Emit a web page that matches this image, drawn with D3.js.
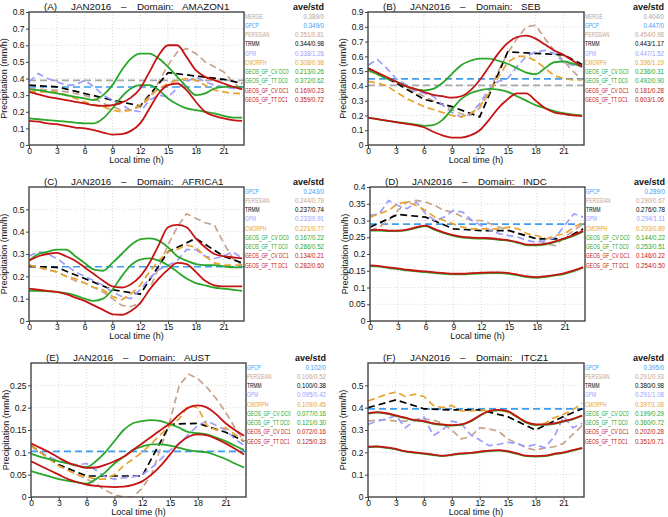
<!DOCTYPE html>
<html><head><meta charset="utf-8">
<script src="https://cdn.jsdelivr.net/npm/d3@7"></script>
<style>
body{margin:0;background:#fff}
text{font-family:"Liberation Sans",Arial,sans-serif}
</style>
</head><body>
<svg id="chart" width="668" height="517"></svg>
<script>
// ---------------- DATA ----------------
const hours = [0,1,2,3,4,5,6,7,8,9,10,11,12,13,14,15,16,17,18,19,20,21,22,23];
const trmmHours = [0,3,6,9,12,15,18,21,23];
const xTicks = [0,3,6,9,12,15,18,21];
const seriesNames = ["MERGE","GPCP","PERSSIAN","TRMM","GPM","CMORPH","GEOS_GF_CV DC0","GEOS_GF_TT DC0","GEOS_GF_CV DC1","GEOS_GF_TT DC1"];

// Panel A  AMAZON1
const A_MERGE = 0.389, A_GPCP = 0.349;
const A_PERSSIAN = [0.34,0.335,0.33,0.33,0.32,0.31,0.30,0.28,0.25,0.23,0.21,0.21,0.23,0.28,0.38,0.48,0.56,0.58,0.55,0.50,0.47,0.44,0.38,0.33];
const A_TRMM = [0.36,0.35,0.31,0.27,0.235,0.435,0.415,0.395,0.37];
const A_GPM = [0.38,0.43,0.40,0.38,0.36,0.36,0.39,0.35,0.30,0.27,0.24,0.21,0.20,0.27,0.30,0.29,0.34,0.38,0.41,0.38,0.36,0.35,0.34,0.34];
const A_CMORPH = [0.32,0.32,0.32,0.32,0.30,0.28,0.26,0.24,0.23,0.21,0.20,0.21,0.24,0.29,0.34,0.37,0.39,0.40,0.39,0.36,0.33,0.32,0.31,0.31];
const A_CVDC0 = [0.16,0.155,0.15,0.145,0.14,0.135,0.13,0.13,0.16,0.22,0.29,0.34,0.36,0.36,0.33,0.28,0.245,0.22,0.21,0.20,0.19,0.175,0.165,0.165];
const A_TTDC0 = [0.335,0.33,0.32,0.31,0.30,0.29,0.28,0.27,0.30,0.36,0.45,0.52,0.55,0.55,0.52,0.47,0.41,0.35,0.30,0.31,0.34,0.35,0.35,0.35];
const A_CVDC1 = [0.145,0.14,0.13,0.125,0.115,0.105,0.10,0.09,0.075,0.063,0.065,0.085,0.13,0.22,0.31,0.36,0.37,0.33,0.26,0.20,0.175,0.16,0.15,0.145];
const A_TTDC1 = [0.32,0.305,0.29,0.28,0.27,0.26,0.25,0.24,0.235,0.24,0.255,0.285,0.34,0.44,0.54,0.60,0.60,0.53,0.45,0.41,0.39,0.37,0.35,0.335];
const A_STATS = ["0.389/0","0.349/0","0.351/0.81","0.344/0.98","0.338/1.26","0.308/0.98","0.213/0.26","0.372/0.62","0.169/0.23","0.359/0.72"];

// Panel B  SEB
const B_MERGE = 0.404, B_GPCP = 0.447;
const B_PERSSIAN = [0.50,0.48,0.45,0.42,0.39,0.36,0.33,0.30,0.27,0.24,0.21,0.20,0.25,0.36,0.50,0.62,0.72,0.80,0.81,0.72,0.64,0.57,0.50,0.44];
const B_TRMM = [0.52,0.42,0.31,0.26,0.19,0.63,0.62,0.61,0.545];
const B_GPM = [0.54,0.58,0.52,0.45,0.41,0.37,0.35,0.33,0.27,0.22,0.19,0.21,0.28,0.38,0.43,0.45,0.53,0.60,0.63,0.64,0.62,0.56,0.54,0.53];
const B_CMORPH = [0.43,0.42,0.40,0.36,0.32,0.29,0.26,0.24,0.22,0.20,0.19,0.21,0.26,0.35,0.46,0.56,0.60,0.60,0.57,0.52,0.47,0.45,0.44,0.44];
const B_CVDC0 = [0.185,0.175,0.165,0.155,0.148,0.14,0.13,0.135,0.17,0.24,0.31,0.35,0.37,0.38,0.375,0.36,0.33,0.30,0.27,0.25,0.23,0.215,0.205,0.20];
const B_TTDC0 = [0.51,0.48,0.45,0.43,0.40,0.38,0.37,0.38,0.42,0.48,0.54,0.57,0.585,0.585,0.57,0.55,0.52,0.49,0.48,0.52,0.56,0.565,0.55,0.53];
const B_CVDC1 = [0.185,0.175,0.165,0.155,0.145,0.135,0.12,0.09,0.065,0.05,0.05,0.065,0.10,0.17,0.25,0.31,0.35,0.35,0.30,0.25,0.22,0.21,0.20,0.195];
const B_TTDC1 = [0.52,0.49,0.46,0.43,0.40,0.38,0.36,0.34,0.33,0.32,0.33,0.37,0.44,0.53,0.62,0.69,0.73,0.74,0.72,0.68,0.64,0.61,0.57,0.53];
const B_STATS = ["0.404/0","0.447/0","0.454/0.98","0.443/1.17","0.447/1.52","0.396/1.19","0.236/0.31","0.492/0.90","0.181/0.28","0.603/1.06"];

// Panel C  AFRICA1
const C_GPCP = 0.243;
const C_PERSSIAN = [0.25,0.24,0.23,0.22,0.20,0.18,0.17,0.15,0.13,0.10,0.07,0.065,0.08,0.14,0.24,0.34,0.42,0.48,0.46,0.44,0.43,0.35,0.28,0.25];
const C_TRMM = [0.245,0.24,0.19,0.14,0.12,0.31,0.37,0.29,0.26];
const C_GPM = [0.29,0.31,0.30,0.28,0.25,0.22,0.20,0.18,0.16,0.13,0.11,0.10,0.14,0.19,0.23,0.25,0.27,0.32,0.32,0.29,0.28,0.29,0.31,0.28];
const C_CMORPH = [0.25,0.24,0.23,0.22,0.20,0.19,0.17,0.15,0.14,0.11,0.095,0.12,0.16,0.22,0.27,0.31,0.32,0.34,0.33,0.29,0.26,0.25,0.25,0.25];
const C_CVDC0 = [0.135,0.135,0.133,0.13,0.125,0.115,0.10,0.09,0.10,0.14,0.20,0.25,0.275,0.28,0.27,0.25,0.22,0.19,0.17,0.16,0.15,0.145,0.14,0.135];
const C_TTDC0 = [0.27,0.30,0.31,0.32,0.32,0.29,0.26,0.23,0.225,0.26,0.30,0.34,0.365,0.37,0.36,0.33,0.29,0.27,0.255,0.25,0.25,0.245,0.24,0.24];
const C_CVDC1 = [0.145,0.14,0.135,0.13,0.12,0.105,0.09,0.07,0.05,0.03,0.028,0.045,0.08,0.14,0.19,0.23,0.26,0.255,0.22,0.18,0.16,0.155,0.155,0.155];
const C_TTDC1 = [0.27,0.29,0.30,0.305,0.29,0.27,0.24,0.21,0.18,0.155,0.15,0.165,0.20,0.26,0.34,0.42,0.43,0.42,0.37,0.33,0.30,0.29,0.285,0.28];
const C_STATS = ["0.243/0","0.244/0.79","0.237/0.74","0.233/0.91","0.221/0.77","0.167/0.22","0.286/0.52","0.134/0.21","0.282/0.60"];

// Panel D  INDC
const D_GPCP = 0.289;
const D_PERSSIAN = [0.27,0.28,0.30,0.33,0.355,0.36,0.355,0.345,0.33,0.325,0.31,0.30,0.30,0.29,0.28,0.27,0.26,0.255,0.245,0.23,0.225,0.25,0.27,0.29];
const D_TRMM = [0.28,0.318,0.31,0.275,0.27,0.27,0.245,0.245,0.275];
const D_GPM = [0.315,0.32,0.36,0.345,0.335,0.355,0.32,0.30,0.31,0.33,0.325,0.30,0.285,0.27,0.26,0.255,0.25,0.24,0.235,0.24,0.25,0.285,0.32,0.31];
const D_CMORPH = [0.31,0.32,0.33,0.35,0.355,0.345,0.33,0.31,0.30,0.29,0.28,0.275,0.275,0.275,0.275,0.28,0.275,0.26,0.255,0.245,0.255,0.26,0.28,0.295];
const D_CVDC0 = [0.164,0.162,0.158,0.155,0.151,0.148,0.146,0.143,0.141,0.139,0.139,0.141,0.142,0.143,0.143,0.141,0.136,0.131,0.129,0.132,0.136,0.141,0.149,0.159];
const D_TTDC0 = [0.27,0.27,0.268,0.268,0.271,0.278,0.283,0.272,0.262,0.254,0.249,0.247,0.246,0.245,0.242,0.239,0.233,0.226,0.226,0.229,0.236,0.245,0.255,0.267];
const D_CVDC1 = [0.166,0.164,0.16,0.157,0.153,0.15,0.148,0.145,0.143,0.141,0.141,0.143,0.144,0.145,0.145,0.143,0.138,0.133,0.131,0.134,0.138,0.143,0.151,0.161];
const D_TTDC1 = [0.272,0.272,0.27,0.27,0.273,0.28,0.285,0.274,0.264,0.256,0.251,0.249,0.248,0.247,0.244,0.241,0.235,0.228,0.228,0.231,0.238,0.247,0.257,0.269];
const D_STATS = ["0.289/0","0.290/0.67","0.276/0.78","0.294/1.11","0.293/0.89","0.144/0.22","0.253/0.51","0.146/0.22","0.254/0.50"];

// Panel E  AUST
const E_GPCP = 0.102;
const E_PERSSIAN = [0.115,0.10,0.085,0.07,0.06,0.05,0.04,0.03,0.015,0.005,0,0,0.02,0.05,0.11,0.17,0.25,0.275,0.265,0.245,0.22,0.19,0.155,0.125];
const E_TRMM = [0.115,0.072,0.047,0.047,0.047,0.163,0.165,0.145,0.125];
const E_GPM = [0.115,0.10,0.09,0.08,0.075,0.072,0.075,0.06,0.045,0.04,0.043,0.045,0.05,0.065,0.085,0.105,0.12,0.14,0.16,0.17,0.16,0.15,0.13,0.115];
const E_CMORPH = [0.115,0.10,0.085,0.07,0.06,0.05,0.045,0.04,0.04,0.05,0.07,0.085,0.10,0.12,0.14,0.16,0.175,0.205,0.20,0.16,0.15,0.155,0.14,0.125];
const E_CVDC0 = [0.058,0.052,0.046,0.04,0.036,0.033,0.03,0.04,0.055,0.075,0.09,0.105,0.113,0.118,0.118,0.115,0.11,0.105,0.102,0.10,0.093,0.085,0.075,0.066];
const E_TTDC0 = [0.097,0.09,0.085,0.08,0.075,0.07,0.067,0.08,0.10,0.125,0.15,0.165,0.17,0.172,0.17,0.163,0.155,0.145,0.143,0.14,0.133,0.125,0.115,0.105];
const E_CVDC1 = [0.08,0.07,0.06,0.05,0.04,0.033,0.028,0.025,0.023,0.022,0.023,0.027,0.035,0.05,0.07,0.095,0.12,0.135,0.14,0.138,0.13,0.12,0.108,0.095];
const E_TTDC1 = [0.12,0.11,0.10,0.088,0.077,0.07,0.065,0.066,0.072,0.08,0.09,0.105,0.12,0.135,0.15,0.165,0.185,0.20,0.205,0.20,0.185,0.165,0.15,0.137];
const E_STATS = ["0.102/0","0.106/0.52","0.100/0.38","0.095/0.42","0.109/0.45","0.077/0.16","0.121/0.30","0.072/0.16","0.125/0.33"];

// Panel F  ITCZ1
const F_GPCP = 0.395;
const F_PERSSIAN = [0.34,0.345,0.345,0.34,0.34,0.345,0.35,0.345,0.33,0.30,0.26,0.27,0.31,0.305,0.295,0.26,0.24,0.22,0.21,0.22,0.225,0.24,0.28,0.32];
const F_TRMM = [0.40,0.435,0.395,0.39,0.39,0.36,0.30,0.36,0.395];
const F_GPM = [0.325,0.34,0.35,0.365,0.31,0.34,0.36,0.275,0.30,0.34,0.33,0.28,0.255,0.23,0.235,0.245,0.24,0.225,0.235,0.22,0.27,0.36,0.31,0.33];
const F_CMORPH = [0.43,0.445,0.46,0.47,0.45,0.46,0.45,0.41,0.40,0.41,0.385,0.385,0.39,0.385,0.39,0.38,0.36,0.335,0.32,0.33,0.355,0.37,0.39,0.42];
const F_CVDC0 = [0.223,0.225,0.22,0.213,0.203,0.198,0.193,0.188,0.183,0.188,0.193,0.196,0.201,0.206,0.208,0.203,0.193,0.183,0.181,0.183,0.191,0.198,0.208,0.218];
const F_TTDC0 = [0.373,0.378,0.373,0.363,0.353,0.343,0.338,0.328,0.323,0.32,0.323,0.338,0.363,0.383,0.388,0.383,0.358,0.333,0.323,0.323,0.328,0.338,0.348,0.363];
const F_CVDC1 = [0.225,0.227,0.222,0.215,0.205,0.20,0.195,0.19,0.185,0.19,0.195,0.198,0.203,0.208,0.21,0.205,0.195,0.185,0.183,0.185,0.193,0.20,0.21,0.22];
const F_TTDC1 = [0.375,0.38,0.375,0.365,0.355,0.345,0.34,0.33,0.325,0.322,0.325,0.34,0.365,0.385,0.39,0.385,0.36,0.335,0.325,0.325,0.33,0.34,0.35,0.365];
const F_STATS = ["0.395/0","0.291/0.93","0.380/0.98","0.291/1.08","0.397/1.08","0.199/0.29","0.360/0.72","0.202/0.28","0.351/0.71"];

// ---------------- STYLE ----------------
const styles = {
  "MERGE":          {color:"#a8a8a8", dash:"7,4", w:1.7},
  "GPCP":           {color:"#3d9df2", dash:"7,4", w:1.7},
  "PERSSIAN":       {color:"#c6a48e", dash:"7,4", w:1.7},
  "TRMM":           {color:"#000000", dash:"7,4", w:1.7},
  "GPM":            {color:"#9d9dff", dash:"7,4", w:1.7},
  "CMORPH":         {color:"#e8a22e", dash:"7,4", w:1.7},
  "GEOS_GF_CV DC0": {color:"#2aa62a", dash:null, w:1.8},
  "GEOS_GF_TT DC0": {color:"#2aa62a", dash:null, w:1.8},
  "GEOS_GF_CV DC1": {color:"#c41414", dash:null, w:1.8},
  "GEOS_GF_TT DC1": {color:"#c41414", dash:null, w:1.8}
};

const panels = [
  {tag:"A", name:"AMAZON1", box:[29,12,244,145], yMax:0.8, yTicks:[0,0.1,0.2,0.3,0.4,0.5,0.6,0.7,0.8],
   data:{"MERGE":A_MERGE,"GPCP":A_GPCP,"PERSSIAN":A_PERSSIAN,"TRMM":A_TRMM,"GPM":A_GPM,"CMORPH":A_CMORPH,
         "GEOS_GF_CV DC0":A_CVDC0,"GEOS_GF_TT DC0":A_TTDC0,"GEOS_GF_CV DC1":A_CVDC1,"GEOS_GF_TT DC1":A_TTDC1}, stats:A_STATS},
  {tag:"B", name:"SEB", box:[368,12,584,145], yMax:0.9, yTicks:[0,0.1,0.2,0.3,0.4,0.5,0.6,0.7,0.8,0.9],
   data:{"MERGE":B_MERGE,"GPCP":B_GPCP,"PERSSIAN":B_PERSSIAN,"TRMM":B_TRMM,"GPM":B_GPM,"CMORPH":B_CMORPH,
         "GEOS_GF_CV DC0":B_CVDC0,"GEOS_GF_TT DC0":B_TTDC0,"GEOS_GF_CV DC1":B_CVDC1,"GEOS_GF_TT DC1":B_TTDC1}, stats:B_STATS},
  {tag:"C", name:"AFRICA1", box:[29,187,244,321], yMax:0.6, yTicks:[0,0.1,0.2,0.3,0.4,0.5],
   data:{"GPCP":C_GPCP,"PERSSIAN":C_PERSSIAN,"TRMM":C_TRMM,"GPM":C_GPM,"CMORPH":C_CMORPH,
         "GEOS_GF_CV DC0":C_CVDC0,"GEOS_GF_TT DC0":C_TTDC0,"GEOS_GF_CV DC1":C_CVDC1,"GEOS_GF_TT DC1":C_TTDC1}, stats:C_STATS},
  {tag:"D", name:"INDC", box:[370,187,585,321], yMax:0.4, yTicks:[0,0.05,0.1,0.15,0.2,0.25,0.3,0.35,0.4],
   data:{"GPCP":D_GPCP,"PERSSIAN":D_PERSSIAN,"TRMM":D_TRMM,"GPM":D_GPM,"CMORPH":D_CMORPH,
         "GEOS_GF_CV DC0":D_CVDC0,"GEOS_GF_TT DC0":D_TTDC0,"GEOS_GF_CV DC1":D_CVDC1,"GEOS_GF_TT DC1":D_TTDC1}, stats:D_STATS},
  {tag:"E", name:"AUST", box:[31,363,246,497], yMax:0.3, yTicks:[0,0.05,0.1,0.15,0.2,0.25],
   data:{"GPCP":E_GPCP,"PERSSIAN":E_PERSSIAN,"TRMM":E_TRMM,"GPM":E_GPM,"CMORPH":E_CMORPH,
         "GEOS_GF_CV DC0":E_CVDC0,"GEOS_GF_TT DC0":E_TTDC0,"GEOS_GF_CV DC1":E_CVDC1,"GEOS_GF_TT DC1":E_TTDC1}, stats:E_STATS},
  {tag:"F", name:"ITCZ1", box:[368,363,584,497], yMax:0.6, yTicks:[0,0.1,0.2,0.3,0.4,0.5],
   data:{"GPCP":F_GPCP,"PERSSIAN":F_PERSSIAN,"TRMM":F_TRMM,"GPM":F_GPM,"CMORPH":F_CMORPH,
         "GEOS_GF_CV DC0":F_CVDC0,"GEOS_GF_TT DC0":F_TTDC0,"GEOS_GF_CV DC1":F_CVDC1,"GEOS_GF_TT DC1":F_TTDC1}, stats:F_STATS}
];

// ---------------- DRAW ----------------
const svg = d3.select("#chart");
svg.append("rect").attr("width",668).attr("height",517).attr("fill","#fff");
const fmt = d3.format("~g");
const X_MAX = 23.2;

panels.forEach((p, pi) => {
  const [x0,y0,x1,y1] = p.box;
  const x = d3.scaleLinear().domain([0,X_MAX]).range([x0,x1]);
  const y = d3.scaleLinear().domain([0,p.yMax]).range([y1,y0]);
  const g = svg.append("g");

  // grid
  g.selectAll(".gx").data(xTicks.filter(t=>t>0)).join("line")
    .attr("x1",d=>x(d)).attr("x2",d=>x(d)).attr("y1",y0).attr("y2",y1)
    .attr("stroke","#cfcfcf").attr("stroke-width",0.8).attr("stroke-dasharray","1,2");
  g.selectAll(".gy").data(p.yTicks.filter(t=>t>0 && t<p.yMax)).join("line")
    .attr("x1",x0).attr("x2",x1).attr("y1",d=>y(d)).attr("y2",d=>y(d))
    .attr("stroke","#cfcfcf").attr("stroke-width",0.8).attr("stroke-dasharray","1,2");

  // clip
  const cid = "clip"+pi;
  svg.append("clipPath").attr("id",cid).append("rect")
    .attr("x",x0).attr("y",y0).attr("width",x1-x0).attr("height",y1-y0);
  const lg = g.append("g").attr("clip-path",`url(#${cid})`);

  const line = d3.line().x(d=>x(d[0])).y(d=>y(d[1]));
  const smooth = d3.line().x(d=>x(d[0])).y(d=>y(d[1])).curve(d3.curveMonotoneX);

  seriesNames.forEach(name => {
    const v = p.data[name];
    if (v === undefined) return;
    const st = styles[name];
    let pts, gen = line;
    if (typeof v === "number") pts = [[0,v],[X_MAX,v]];
    else if (name === "TRMM") pts = trmmHours.map((h,i)=>[h,v[i]]);
    else { pts = hours.map((h,i)=>[h,v[i]]); if (name.startsWith("GEOS")) gen = smooth; }
    lg.append("path").attr("d",gen(pts)).attr("fill","none")
      .attr("stroke",st.color).attr("stroke-width",st.w)
      .attr("stroke-dasharray",st.dash).attr("stroke-linejoin","round");
  });

  // border
  g.append("rect").attr("x",x0).attr("y",y0).attr("width",x1-x0).attr("height",y1-y0)
    .attr("fill","none").attr("stroke","#444").attr("stroke-width",1.4);

  // axes
  const ay = g.append("g").attr("transform",`translate(${x0},0)`)
    .call(d3.axisLeft(y).tickValues(p.yTicks).tickFormat(fmt).tickSize(3).tickPadding(1.5));
  const ax = g.append("g").attr("transform",`translate(0,${y1})`)
    .call(d3.axisBottom(x).tickValues(xTicks).tickFormat(fmt).tickSize(3).tickPadding(0));
  [ay,ax].forEach(a=>{
    a.select(".domain").remove();
    a.selectAll(".tick line").attr("stroke","#444");
    a.selectAll("text").attr("font-family","DejaVu Sans, sans-serif")
      .attr("font-size",8.5).attr("fill","#111");
  });

  // axis titles
  g.append("text").attr("x",(x0+x1)/2).attr("y",y1+17.5).attr("text-anchor","middle")
    .attr("font-family","DejaVu Sans, sans-serif").attr("font-size",9).attr("fill","#111").text("Local time (h)");
  g.append("text").attr("transform",`translate(${x0-22},${(y0+y1)/2}) rotate(-90)`)
    .attr("text-anchor","middle").attr("font-family","DejaVu Sans, sans-serif")
    .attr("font-size",9).attr("fill","#111").text("Precipitation (mm/h)");

  // panel title, pieces spaced like the reference
  const t = g.append("text").attr("y",y0-2).attr("font-family","DejaVu Sans, sans-serif")
    .attr("font-size",9.8).attr("fill","#111");
  t.append("tspan").attr("x",x0+15).text(`(${p.tag})`);
  t.append("tspan").attr("x",x0+42).text("JAN2016");
  t.append("tspan").attr("x",x0+92).text("–");
  t.append("tspan").attr("x",x0+108).text("Domain:");
  t.append("tspan").attr("x",x0+153).text(p.name);

  // legend
  const lx = x1+1, rx = x1+80;
  g.append("text").attr("x",rx).attr("y",y0-2.5).attr("text-anchor","end")
    .attr("font-size",9).attr("font-weight","bold").attr("fill","#111").text("ave/std");
  const names = seriesNames.filter(n=>p.data[n]!==undefined);
  names.forEach((n,i)=>{
    const yy = y0+6.5+i*9.25;
    g.append("text").attr("transform",`translate(${lx},${yy}) scale(0.62,1)`)
      .attr("font-size",7.8).attr("fill",styles[n].color).text(n);
    g.append("text").attr("transform",`translate(${rx},${yy}) scale(0.79,1)`).attr("text-anchor","end")
      .attr("font-size",7.8).attr("fill",styles[n].color).text(p.stats[i]);
  });
});
</script>
</body></html>
